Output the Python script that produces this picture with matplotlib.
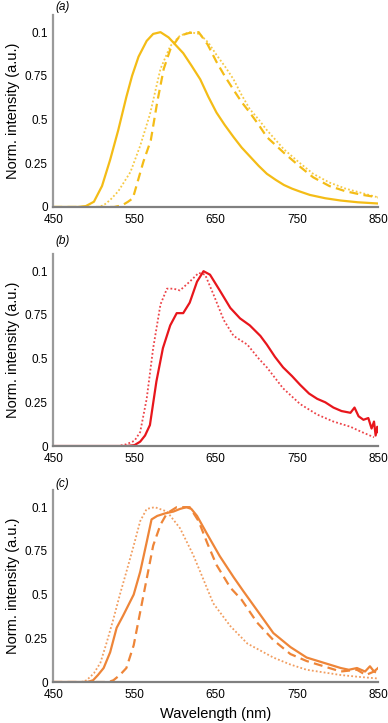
import matplotlib
matplotlib.use('Agg')
import matplotlib.pyplot as plt

plt.rcParams['font.family'] = ['Liberation Sans', 'DejaVu Sans']

YELLOW = '#f4bc16'
RED = '#e8161c'
ORANGE = '#ee8538'

# panel (a)
a_solid_wl = [450, 480, 490, 500, 510, 520, 530, 540, 547, 555, 565, 573, 582, 592, 600, 610,
              620, 631, 641, 651, 661, 672, 682, 692, 703, 713, 724, 734, 744, 754, 766, 785,
              804, 825, 850]
a_solid = [0, 0, 0.005, 0.03, 0.12, 0.27, 0.44, 0.63, 0.75, 0.86, 0.95, 0.99, 1.0, 0.97, 0.93, 0.88,
           0.81, 0.73, 0.63, 0.54, 0.47, 0.4, 0.34, 0.29, 0.235, 0.19, 0.155, 0.126, 0.105, 0.088, 0.069, 0.05,
           0.037, 0.027, 0.02]
a_dot_wl = [450, 505, 512, 520, 530, 545, 557, 569, 582, 594, 606, 618, 630, 641, 651, 662,
            672, 682, 692, 703, 713, 734, 754, 770, 790, 810, 830, 850]
a_dot = [0, 0, 0.01, 0.04, 0.09, 0.2, 0.35, 0.53, 0.79, 0.92, 0.98, 1.0, 0.99, 0.94, 0.87, 0.8,
         0.73, 0.64, 0.56, 0.5, 0.44, 0.33, 0.25, 0.19, 0.14, 0.105, 0.08, 0.055]
a_dash_wl = [450, 525, 535, 542, 548, 561, 570, 578, 586, 594, 606, 617, 629, 640, 651, 661,
             672, 682, 692, 703, 713, 734, 754, 770, 790, 810, 830, 850]
a_dash = [0, 0, 0.01, 0.03, 0.05, 0.26, 0.38, 0.6, 0.79, 0.9, 0.98, 0.995, 1.0, 0.93, 0.83, 0.75,
          0.67, 0.6, 0.54, 0.47, 0.4, 0.31, 0.23, 0.17, 0.12, 0.09, 0.07, 0.055]

# panel (b)
b_solid_wl = [450, 540, 550, 557, 563, 569, 577, 585, 594, 602, 610, 618, 627, 635, 643, 655,
              668, 680, 692, 705, 713, 723, 733, 744, 754, 765, 775, 785, 795, 805, 816, 821,
              826, 832, 838, 842, 845, 847, 849, 850]
b_solid = [0, 0, 0.005, 0.025, 0.06, 0.12, 0.37, 0.56, 0.69, 0.76, 0.76, 0.82, 0.94, 1.0, 0.98, 0.89,
           0.79, 0.73, 0.69, 0.63, 0.58, 0.51, 0.45, 0.4, 0.35, 0.3, 0.27, 0.25, 0.22, 0.2, 0.19, 0.22,
           0.17, 0.15, 0.16, 0.1, 0.14, 0.06, 0.11, 0.08]
b_dot_wl = [450, 530, 540, 550, 557, 565, 573, 582, 590, 598, 606, 618, 629, 637, 647, 660,
            672, 689, 703, 713, 733, 754, 775, 795, 816, 830, 845]
b_dot = [0, 0, 0.01, 0.03, 0.08, 0.27, 0.56, 0.81, 0.9, 0.9, 0.89, 0.94, 0.99, 0.98, 0.87, 0.72,
         0.63, 0.58, 0.5, 0.45, 0.33, 0.24, 0.18, 0.14, 0.11, 0.08, 0.05]

# panel (c)
c_solid_wl = [450, 492, 499, 505, 512, 520, 528, 536, 549, 557, 565, 571, 578, 588, 598, 606,
              614, 620, 627, 639, 655, 672, 684, 701, 721, 742, 762, 783, 804, 814, 824, 834,
              840, 845, 850]
c_solid = [0, 0, 0.01, 0.04, 0.08, 0.17, 0.31, 0.38, 0.5, 0.63, 0.8, 0.93, 0.95, 0.965, 0.975, 0.99,
           1.0, 0.99, 0.95, 0.85, 0.72, 0.6, 0.52, 0.41, 0.28, 0.2, 0.14, 0.11, 0.08, 0.07, 0.08, 0.06,
           0.09, 0.06, 0.08]
c_dash_wl = [450, 518, 524, 532, 540, 549, 557, 565, 573, 582, 590, 602, 618, 629, 640, 651,
             668, 682, 701, 721, 742, 762, 783, 804, 824, 835, 845, 850]
c_dash = [0, 0, 0.01, 0.04, 0.08, 0.21, 0.4, 0.59, 0.78, 0.9, 0.965, 1.0, 1.0, 0.92, 0.79, 0.67,
          0.54, 0.47, 0.34, 0.24, 0.16, 0.12, 0.09, 0.06, 0.07, 0.04, 0.06, 0.05]
c_dot_wl = [450, 485, 491, 500, 508, 516, 524, 532, 540, 549, 557, 565, 575, 590, 606, 622,
            631, 647, 668, 689, 701, 721, 742, 762, 783, 804, 825, 850]
c_dot = [0, 0, 0.01, 0.05, 0.11, 0.23, 0.36, 0.5, 0.63, 0.78, 0.92, 0.99, 1.0, 0.975, 0.88, 0.73,
         0.63, 0.45, 0.32, 0.22, 0.19, 0.14, 0.1, 0.07, 0.055, 0.04, 0.03, 0.02]

x_ticks = [450, 550, 650, 750, 850]
y_ticks = [0, 0.25, 0.5, 0.75, 1.0]
y_ticklabels = ['0', '0.25', '0.5', '0.75', '0.1']

fig = plt.figure(figsize=(3.88, 7.23), dpi=100)

# (label, axes bottom, label y in figure coords, curves, colour)
panels = [
    ('(a)', 0.7137, 0.990, [(a_solid_wl, a_solid, '-'), (a_dot_wl, a_dot, ':'), (a_dash_wl, a_dash, '--')], YELLOW),
    ('(b)', 0.3831, 0.666, [(b_solid_wl, b_solid, '-'), (b_dot_wl, b_dot, ':')], RED),
    ('(c)', 0.0567, 0.331, [(c_solid_wl, c_solid, '-'), (c_dot_wl, c_dot, ':'), (c_dash_wl, c_dash, '--')], ORANGE),
]

for i, (label, bottom, label_y, curves, color) in enumerate(panels):
    ax = fig.add_axes([0.1374, bottom, 0.837, 0.266])
    for wl, vals, ls in curves:
        if ls == '--':
            ax.plot(wl, vals, color=color, lw=1.6, linestyle=(0, (4, 2.4)))
        elif ls == ':':
            ax.plot(wl, vals, color=color, lw=1.3, linestyle=(0, (1, 1.2)), alpha=0.8)
        else:
            ax.plot(wl, vals, color=color, lw=1.6)
    ax.set_xlim(450, 850)
    ax.set_ylim(0, 1.1)
    ax.set_xticks(x_ticks)
    ax.set_yticks(y_ticks)
    ax.set_yticklabels(y_ticklabels)
    ax.tick_params(axis='y', length=0, labelsize=8.5, pad=4)
    ax.tick_params(axis='x', length=0, labelsize=8.5, pad=5)
    for side in ['top', 'right']:
        ax.spines[side].set_visible(False)
    ax.spines['left'].set_color('#9a9a9a')
    ax.spines['bottom'].set_color('#808080')
    ax.spines['left'].set_linewidth(1.6)
    ax.spines['bottom'].set_linewidth(1.6)
    ax.set_ylabel('Norm. intensity (a.u.)', fontsize=10.5, labelpad=3)
    fig.text(0.142, label_y, label, fontsize=8.5, style='italic', ha='left', va='center')
    if i == 2:
        ax.set_xlabel('Wavelength (nm)', fontsize=10.5, labelpad=4)

fig.savefig('out.png', dpi=100)
